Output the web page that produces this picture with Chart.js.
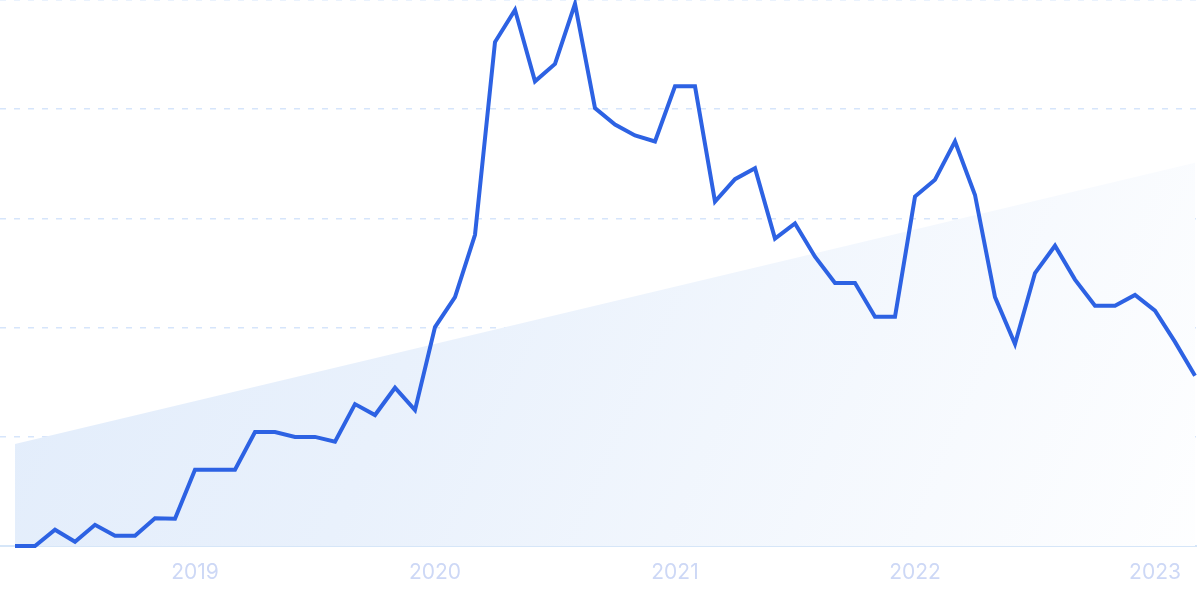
<!DOCTYPE html>
<html>
<head>
<meta charset="utf-8">
<script src="https://cdn.jsdelivr.net/npm/chart.js@4/dist/chart.umd.min.js"></script>
<style>
  html, body { margin: 0; padding: 0; background: #ffffff; }
  #wrap { width: 1200px; height: 599px; position: relative; }
</style>
</head>
<body>
<div id="wrap"><canvas id="c"></canvas></div>
<script>
// Months (categories), Apr 2018 – Mar 2023
const months = [
  '2018-04','2018-05','2018-06','2018-07','2018-08','2018-09','2018-10','2018-11','2018-12',
  '2019-01','2019-02','2019-03','2019-04','2019-05','2019-06','2019-07','2019-08','2019-09','2019-10','2019-11','2019-12',
  '2020-01','2020-02','2020-03','2020-04','2020-05','2020-06','2020-07','2020-08','2020-09','2020-10','2020-11','2020-12',
  '2021-01','2021-02','2021-03','2021-04','2021-05','2021-06','2021-07','2021-08','2021-09','2021-10','2021-11','2021-12',
  '2022-01','2022-02','2022-03','2022-04','2022-05','2022-06','2022-07','2022-08','2022-09','2022-10','2022-11','2022-12',
  '2023-01','2023-02','2023-03'
];

// Search interest (relative, 0–100)
const interest = [
  0, 0, 3, 0.8, 3.9, 1.9, 1.9, 5.1, 5,
  14, 14, 14, 20.9, 20.9, 20, 20, 19.1, 26, 24, 29, 24.9,
  40.1, 45.6, 57, 92.3, 98.2, 85.1, 88.3, 99.3, 80.2, 77.2, 75.2, 74.1,
  84.2, 84.2, 63.1, 67.2, 69.2, 56.3, 59.1, 53, 48.2, 48.2, 42, 42,
  64, 67.1, 74.1, 64.3, 45.6, 37, 50, 55, 48.8, 44, 44, 46,
  43.1, 37.4, 31.2
];

// Trend line (start, end)
const trendMonths = ['2018-04', '2023-03'];
const trendValues = [18.7, 70.2];

// Year tick labels (shown at January of each year)
const yearLabels = ['2019', '2020', '2021', '2022', '2023'];

const lineData = interest.map((v, i) => ({ x: i, y: v }));
const trendData = trendValues.map((v, i) => ({ x: months.indexOf(trendMonths[i]), y: v }));
const yearTickValues = yearLabels.map(y => months.indexOf(y + '-01'));

function trendFill(context) {
  const chart = context.chart;
  const area = chart.chartArea;
  if (!area) return 'rgba(225,236,251,1)';
  const g = chart.ctx.createLinearGradient(area.left, area.top + 150, area.right, area.bottom + 120);
  g.addColorStop(0, '#e1ecfb');
  g.addColorStop(0.35, '#e9f1fc');
  g.addColorStop(1, '#ffffff');
  return g;
}

new Chart(document.getElementById('c'), {
  type: 'line',
  data: {
    datasets: [
      {
        label: 'Interest',
        data: lineData,
        borderColor: '#2d62e3',
        borderWidth: 4,
        pointRadius: 0,
        tension: 0,
        fill: false,
        clip: false,
        order: 0
      },
      {
        label: 'Trend',
        data: trendData,
        borderWidth: 0,
        borderColor: 'rgba(0,0,0,0)',
        backgroundColor: trendFill,
        pointRadius: 0,
        fill: 'origin',
        order: 1
      }
    ]
  },
  options: {
    responsive: true,
    maintainAspectRatio: false,
    animation: false,
    layout: { padding: { left: 0, right: 4, top: 0, bottom: 0 } },
    plugins: { legend: { display: false }, tooltip: { enabled: false } },
    scales: {
      x: {
        type: 'linear',
        min: -0.75,
        max: 59.05,
        grid: { display: false, drawTicks: false },
        border: { display: true, color: '#d6e6f8', width: 2 },
        afterBuildTicks: (scale) => {
          scale.ticks = yearTickValues.map(v => ({ value: v }));
        },
        ticks: {
          autoSkip: false,
          maxRotation: 0,
          padding: 17,
          color: '#cdd8f6',
          font: { family: 'Inter, "Noto Sans", sans-serif', size: 21, lineHeight: 0.9 },
          callback: (value) => {
            const idx = yearTickValues.indexOf(value);
            return idx >= 0 ? yearLabels[idx] : null;
          }
        }
      },
      y: {
        min: 0,
        max: 100,
        ticks: { display: false, stepSize: 20 },
        grid: {
          drawTicks: false,
          lineWidth: 1.5,
          color: (ctx) => (ctx.tick && ctx.tick.value === 0) ? 'rgba(0,0,0,0)' : '#d6e5fb'
        },
        border: { display: false, dash: [6, 8] }
      }
    }
  }
});
</script>
</body>
</html>
